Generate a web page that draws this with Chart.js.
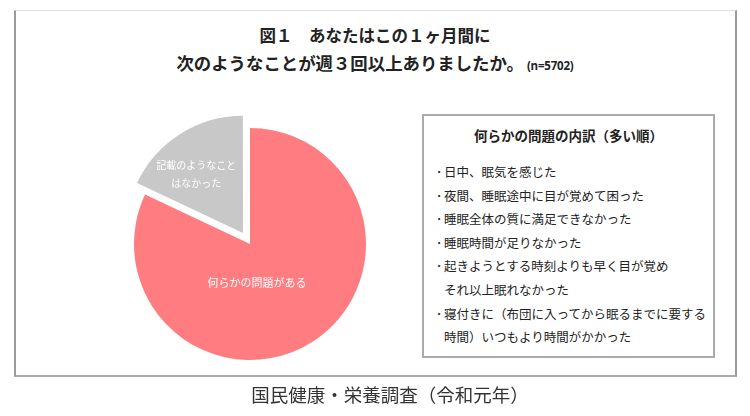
<!DOCTYPE html>
<html lang="ja">
<head>
<meta charset="utf-8">
<script src="https://cdn.jsdelivr.net/npm/chart.js@4/dist/chart.umd.min.js"></script>
<style>
  body { margin: 0; background: #fff; font-family: "Noto Sans CJK JP", sans-serif; color: #222; }
  #page { position: relative; width: 750px; height: 416px; overflow: hidden; }
  #frame {
    position: absolute; left: 14px; top: 10px; width: 719px; height: 364px;
    border-top: 1px solid #ddd; border-left: 2px solid #9a9a9a;
    border-right: 2px solid #9a9a9a; border-bottom: 2px solid #aaa;
  }
  .title { position: absolute; left: 0; width: 750px; text-align: center;
    font-weight: bold; line-height: 22px; color: #222; }
  .title .n { font-family: "Open Sans", "Noto Sans", sans-serif; font-size: 11.5px;
    letter-spacing: -0.2px; margin-left: 3px; }
  #pie { position: absolute; left: 108px; top: 102px; }
  #box {
    position: absolute; left: 422px; top: 114px; width: 293px; height: 244px;
    box-sizing: border-box; border: 2px solid #aaa;
  }
  #boxTitle { position: absolute; left: 422px; width: 293px; top: 126px; text-align: center;
    font-size: 13.5px; font-weight: bold; line-height: 18px; }
  #causes { position: absolute; left: 436px; top: 160px; font-size: 12.5px; line-height: 23.6px; color: #222; }
  #causes .b { display: inline-block; width: 8px; }
  #causes .c { padding-left: 8px; }
  #source { position: absolute; left: 0; width: 780px; top: 384px; text-align: center;
    font-family: "Liberation Serif", "Noto Sans CJK JP", serif; font-size: 18.5px; line-height: 24px; color: #333; }
</style>
</head>
<body>
<div id="page">
  <div id="frame"></div>
  <div class="title" style="top:24px;font-size:16.5px">図１　あなたはこの１ヶ月間に</div>
  <div class="title" style="top:52px;font-size:17.4px">次のようなことが週３回以上ありましたか。<span class="n">(n=5702)</span></div>
  <canvas id="pie" width="284" height="284"></canvas>
  <div id="box"></div>
  <div id="boxTitle">何らかの問題の内訳（多い順）</div>
  <div id="causes"></div>
  <div id="source">国民健康・栄養調査（令和元年）</div>
</div>
<script>
// 円グラフのデータ
const sliceNames = ['何らかの問題がある', ['記載のようなこと', 'はなかった']];
const sliceValues = [82, 18];
const sliceColors = ['#FF7C80', '#C8C8C8'];
const sliceOffsets = [0, 52];   // v4では描画時に1/4だけずれる

// ラベル位置（半径に対する比率と角度のずらし）
const LABEL_DIST = [0.34, 0.65];
const LABEL_SHIFT = [22, -6];
const LABEL_FONT = [11, 10];

// 内訳（多い順）
const causeItems = [
  ['日中、眠気を感じた'],
  ['夜間、睡眠途中に目が覚めて困った'],
  ['睡眠全体の質に満足できなかった'],
  ['睡眠時間が足りなかった'],
  ['起きようとする時刻よりも早く目が覚め', 'それ以上眠れなかった'],
  ['寝付きに（布団に入ってから眠るまでに要する', '時間）いつもより時間がかかった']
];

const causesEl = document.getElementById('causes');
causeItems.forEach(lines => {
  lines.forEach((t, j) => {
    const div = document.createElement('div');
    if (j === 0) {
      const b = document.createElement('span');
      b.className = 'b';
      b.textContent = '･';
      div.appendChild(b);
      div.appendChild(document.createTextNode(t));
    } else {
      div.className = 'c';
      div.textContent = t;
    }
    causesEl.appendChild(div);
  });
});

// スライス内にラベルを描く
const sliceLabels = {
  id: 'sliceLabels',
  afterDatasetsDraw(chart) {
    const ctx = chart.ctx;
    const meta = chart.getDatasetMeta(0);
    ctx.save();
    ctx.fillStyle = '#ffffff';
    ctx.textAlign = 'center';
    ctx.textBaseline = 'middle';
    meta.data.forEach((arc, i) => {
      const p = arc.getProps(['x', 'y', 'startAngle', 'endAngle', 'outerRadius'], true);
      const half = (p.startAngle + p.endAngle) / 2;
      const off = (arc.options.offset || 0) / 4;
      const mid = half + LABEL_SHIFT[i] * Math.PI / 180;
      const d = p.outerRadius * LABEL_DIST[i];
      const cx = p.x + Math.cos(half) * off + Math.cos(mid) * d;
      const cy = p.y + Math.sin(half) * off + Math.sin(mid) * d;
      const lines = [].concat(chart.data.labels[i]);
      const lh = 18;
      ctx.font = LABEL_FONT[i] + 'px "Noto Sans CJK JP", sans-serif';
      lines.forEach((t, j) => {
        ctx.fillText(t, cx, cy + (j - (lines.length - 1) / 2) * lh);
      });
    });
    ctx.restore();
  }
};

new Chart(document.getElementById('pie'), {
  type: 'pie',
  data: {
    labels: sliceNames,
    datasets: [{
      data: sliceValues,
      backgroundColor: sliceColors,
      offset: sliceOffsets,
      borderWidth: 0
    }]
  },
  options: {
    responsive: false,
    animation: false,
    layout: { padding: 0 },
    plugins: {
      legend: { display: false },
      tooltip: { enabled: false }
    }
  },
  plugins: [sliceLabels]
});
</script>
</body>
</html>
